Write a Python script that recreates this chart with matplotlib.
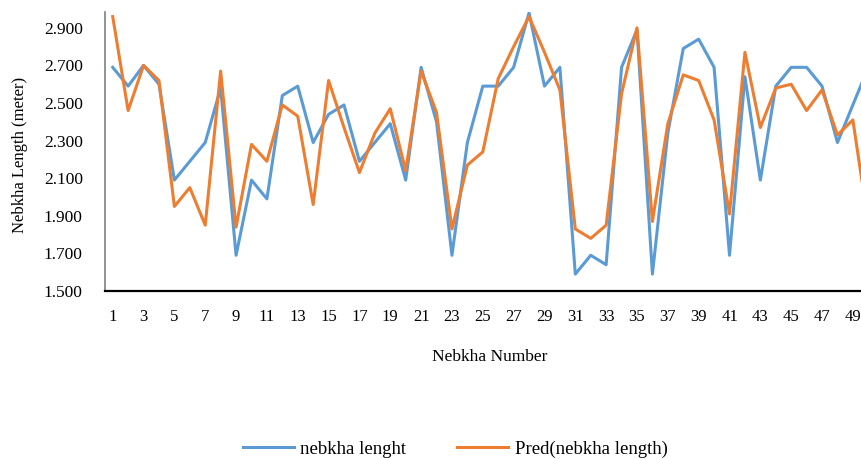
import numpy as np
import matplotlib
matplotlib.use("Agg")
import matplotlib.pyplot as plt

# Nebkha numbers
nebkha_no = np.arange(1, 51)

# measured lengths (meter)
length_obs = [2.69, 2.59, 2.70, 2.60, 2.09, 2.19, 2.29, 2.58, 1.69, 2.09,
              1.99, 2.54, 2.59, 2.29, 2.44, 2.49, 2.19, 2.29, 2.39, 2.09,
              2.69, 2.40, 1.69, 2.29, 2.59, 2.59, 2.69, 2.98, 2.59, 2.69,
              1.59, 1.69, 1.64, 2.69, 2.89, 1.59, 2.34, 2.79, 2.84, 2.69,
              1.69, 2.64, 2.09, 2.59, 2.69, 2.69, 2.59, 2.29, 2.49, 2.69]

# predicted lengths (meter)
length_pred = [2.96, 2.46, 2.70, 2.62, 1.95, 2.05, 1.85, 2.67, 1.84, 2.28,
               2.19, 2.49, 2.43, 1.96, 2.62, 2.37, 2.13, 2.34, 2.47, 2.14,
               2.67, 2.45, 1.83, 2.17, 2.24, 2.63, 2.80, 2.96, 2.77, 2.57,
               1.83, 1.78, 1.85, 2.55, 2.90, 1.87, 2.39, 2.65, 2.62, 2.41,
               1.91, 2.77, 2.37, 2.58, 2.60, 2.46, 2.57, 2.33, 2.41, 1.86]

y_ticks = [1.5, 1.7, 1.9, 2.1, 2.3, 2.5, 2.7, 2.9]
x_ticks = list(range(1, 50, 2))

plt.rcParams['font.family'] = ['Liberation Serif', 'DejaVu Serif']

W, H = 861, 459
fig = plt.figure(figsize=(W / 100, H / 100), dpi=100)

# axes placed in pixel terms; right side runs past the image edge like the original crop
left, right, top, bottom = 105, 876, 11.7, 291
ax = fig.add_axes([left / W, 1 - bottom / H, (right - left) / W, (bottom - top) / H])

ax.plot(nebkha_no, length_obs, color='#5B9BD5', lw=2.2, label='nebkha lenght')
ax.plot(nebkha_no, length_pred, color='#ED7D31', lw=2.2, label='Pred(nebkha length)')

ax.set_xlim(0.5, 50.5)
ax.set_ylim(1.5, 2.986)
ax.set_yticks(y_ticks)
ax.set_yticklabels([f'{v:.3f}' for v in y_ticks])
ax.set_xticks(x_ticks)
ax.tick_params(axis='y', length=0, pad=16, labelsize=12.5)
ax.tick_params(axis='x', length=0, pad=13, labelsize=12)

ax.spines['top'].set_visible(False)
ax.spines['right'].set_visible(False)
ax.spines['left'].set_color('#808080')
ax.spines['left'].set_linewidth(1.2)
ax.spines['bottom'].set_color('black')
ax.spines['bottom'].set_linewidth(1.6)

fig.text(490 / W, 1 - 357 / H, 'Nebkha Number', ha='center', va='center', fontsize=12.5)
fig.text(20 / W, 1 - 155 / H, 'Nebkha Length (meter)', ha='center', va='center',
         rotation=90, fontsize=12)

fig.legend(loc='center', bbox_to_anchor=(455 / W, 1 - 449 / H), ncol=2, frameon=False,
           fontsize=13.5, handlelength=2.75, handletextpad=0.33, columnspacing=2.7)

fig.savefig('out.png', dpi=100)
